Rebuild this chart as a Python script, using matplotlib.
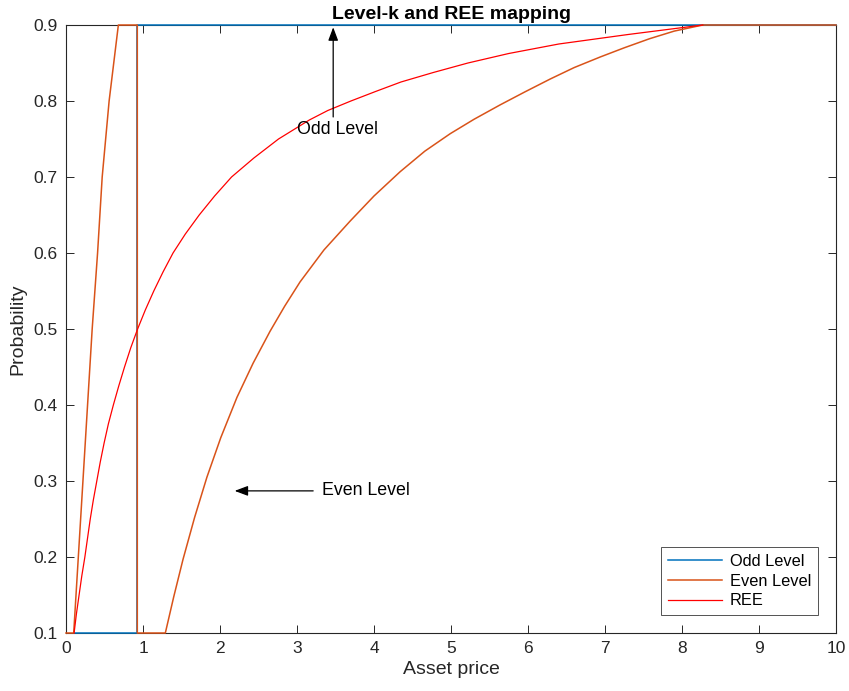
import matplotlib
matplotlib.use('Agg')
import matplotlib.pyplot as plt

plt.rcParams['font.family'] = ['Liberation Sans', 'DejaVu Sans']

# Odd level: step from 0.1 to 0.9
oddX = [0.1, 0.926, 0.926, 10]
oddY = [0.1, 0.1, 0.9, 0.9]

# Even level: steep rise, drop, then second curve
evenX = [0, 0.1, 0.16, 0.22, 0.28, 0.34, 0.41, 0.47, 0.56, 0.62, 0.68, 0.926, 0.926,
         1.29, 1.40, 1.52, 1.67, 1.83, 2.01, 2.22, 2.43, 2.65, 2.84, 3.04, 3.35, 3.69,
         4.0, 4.34, 4.66, 4.99, 5.3, 5.64, 5.96, 6.29, 6.6, 6.94, 7.25, 7.58, 7.9, 8.27, 10]
evenY = [0.1, 0.1, 0.2, 0.3, 0.4, 0.5, 0.6, 0.7, 0.8, 0.85, 0.9, 0.9, 0.1,
         0.1, 0.148, 0.197, 0.252, 0.305, 0.357, 0.41, 0.455, 0.497, 0.53, 0.562, 0.604, 0.642,
         0.675, 0.707, 0.734, 0.757, 0.776, 0.795, 0.812, 0.829, 0.844, 0.858, 0.87, 0.882, 0.892, 0.9, 0.9]

# REE mapping
reeX = [0.105, 0.135, 0.17, 0.205, 0.245, 0.28, 0.315, 0.355, 0.40, 0.445, 0.495, 0.55,
        0.615, 0.685, 0.76, 0.84, 0.93, 1.03, 1.14, 1.26, 1.39, 1.55, 1.73, 1.93, 2.15,
        2.44, 2.76, 3.16, 3.4, 3.7, 4.02, 4.35, 4.77, 5.22, 5.75, 6.4, 7.3, 8.27]
reeY = [0.1, 0.125, 0.15, 0.175, 0.2, 0.225, 0.25, 0.275, 0.3, 0.325, 0.35, 0.375,
        0.4, 0.425, 0.45, 0.475, 0.5, 0.525, 0.55, 0.575, 0.6, 0.625, 0.65, 0.675, 0.7,
        0.725, 0.75, 0.775, 0.7875, 0.8, 0.8125, 0.825, 0.8375, 0.85, 0.8625, 0.875, 0.8875, 0.9]

blue = (0, 0.447, 0.741)
orange = (0.85, 0.325, 0.098)
axisColor = (0.15, 0.15, 0.15)

fig = plt.figure(figsize=(8.49, 6.91), dpi=100)
ax = fig.add_axes([66/849, 1 - 633/691, (836 - 66)/849, (633 - 25)/691])

ax.plot(oddX, oddY, color=blue, lw=1.1, label='Odd Level', clip_on=False)
ax.plot(evenX, evenY, color=orange, lw=1.1, label='Even Level', clip_on=False)
ax.plot(reeX, reeY, color='red', lw=0.9, label='REE', clip_on=False)

ax.set_xlim(0, 10)
ax.set_ylim(0.1, 0.9)
ax.set_xticks(range(0, 11))
ax.set_yticks([0.1, 0.2, 0.3, 0.4, 0.5, 0.6, 0.7, 0.8, 0.9])
ax.set_yticklabels(['0.1', '0.2', '0.3', '0.4', '0.5', '0.6', '0.7', '0.8', '0.9'])
ax.tick_params(direction='in', top=True, right=True, length=6, width=0.7,
               colors=axisColor, labelsize=12.5, pad=6)
for s in ax.spines.values():
    s.set_color(axisColor)
    s.set_linewidth(0.8)
    s.set_zorder(0)

ax.set_xlabel('Asset price', fontsize=14, color=axisColor, labelpad=3)
ax.set_ylabel('Probability', fontsize=14, color=axisColor, labelpad=5)
ax.set_title('Level-k and REE mapping', fontsize=14, fontweight='bold', pad=4)

arrowStyle = dict(arrowstyle='-|>,head_length=0.8,head_width=0.3', color='black',
                  lw=0.9, shrinkA=0, shrinkB=0)
ax.annotate('', xy=(3.47, 0.897), xytext=(3.47, 0.779), arrowprops=arrowStyle)
ax.text(3.52, 0.762, 'Odd Level', fontsize=12.8, ha='center', va='center')
ax.annotate('', xy=(2.19, 0.287), xytext=(3.21, 0.287), arrowprops=arrowStyle)
ax.text(3.32, 0.287, 'Even Level', fontsize=12.8, ha='left', va='center')

leg = ax.legend(loc='lower right', fontsize=11.8, frameon=True, fancybox=False,
                edgecolor=axisColor, handlelength=3.3, handletextpad=0.5,
                borderpad=0.4, labelspacing=0.3, borderaxespad=1.1)
leg.get_frame().set_linewidth(0.7)

fig.savefig('out.png', dpi=100)
